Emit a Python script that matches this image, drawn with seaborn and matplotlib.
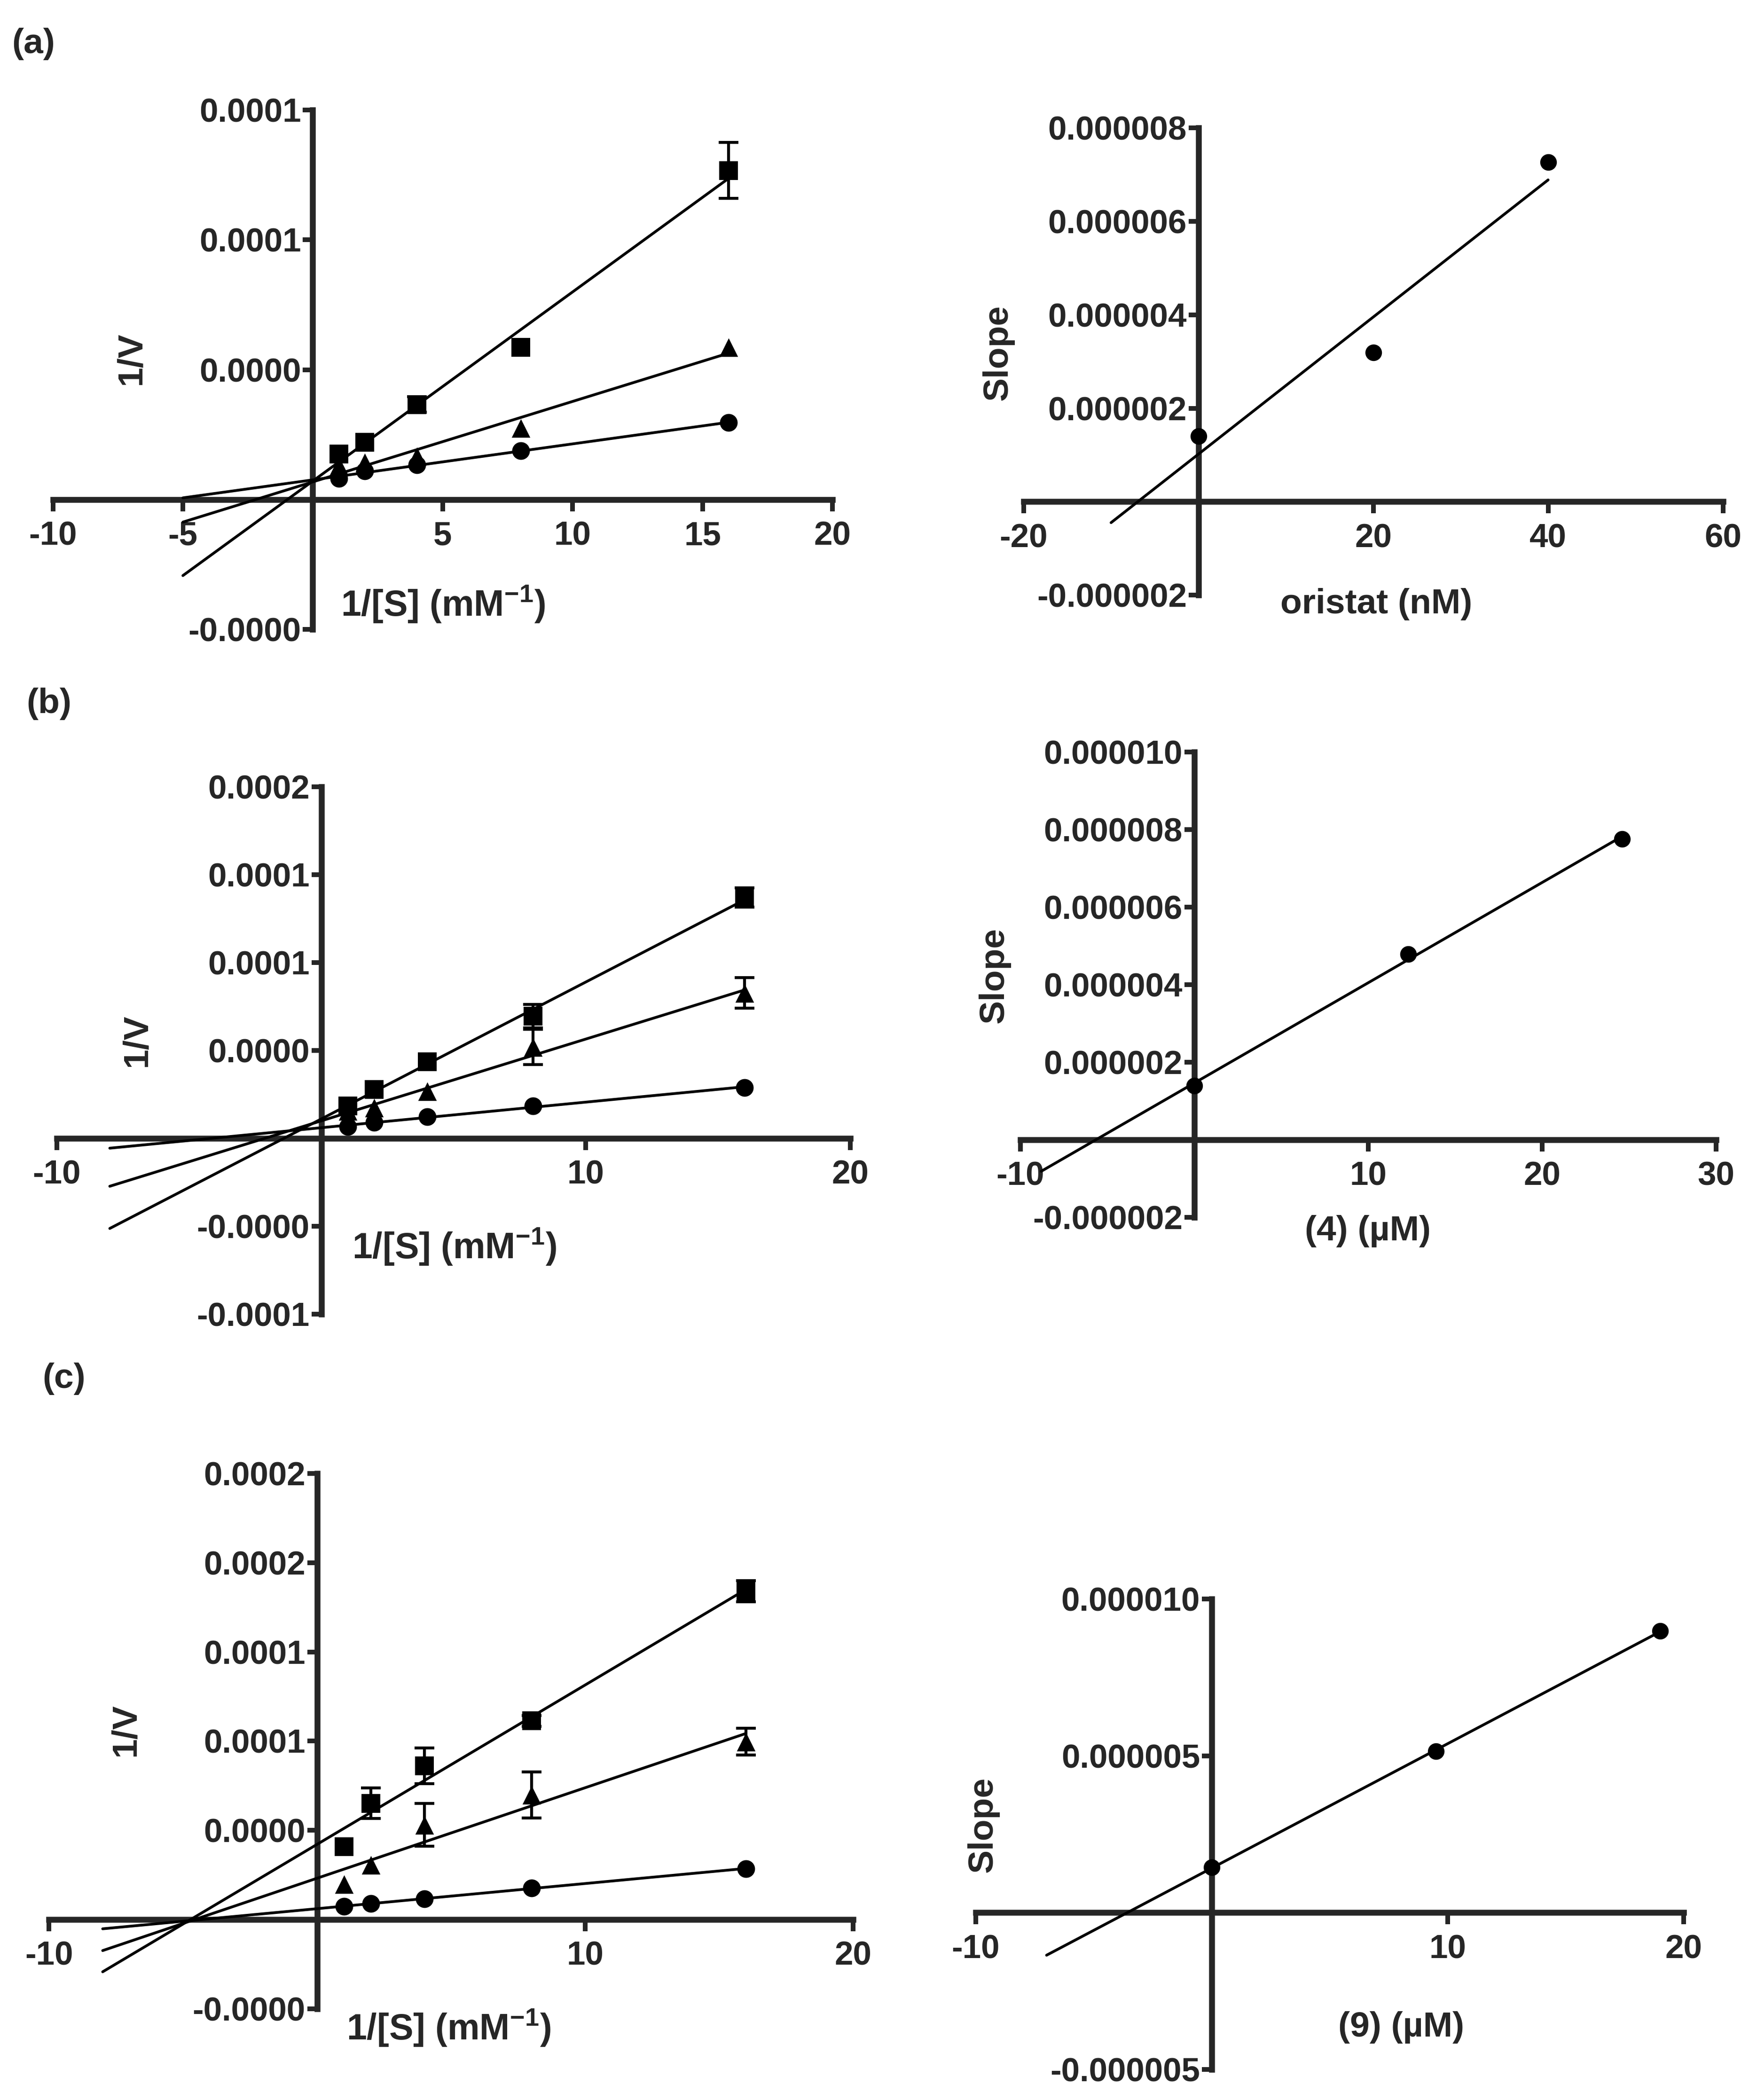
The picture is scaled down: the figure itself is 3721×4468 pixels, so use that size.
import numpy as np
import pandas as pd
import seaborn as sns
import matplotlib.pyplot as plt

# ---- data ----
s_inv = [1, 2, 4, 8, 16]  # 1/[S] (mM^-1)

# (a) oristat
a_square = [1.75e-5, 2.20e-5, 3.66e-5, 5.86e-5, 12.67e-5]
a_square_err = [0, 0, 0.3e-5, 0, 1.08e-5]
a_triangle = [1.30e-5, 1.42e-5, 1.67e-5, 2.75e-5, 5.87e-5]
a_triangle_err = [0, 0, 0, 0, 0]
a_circle = [0.81e-5, 1.10e-5, 1.34e-5, 1.88e-5, 2.96e-5]
a_conc = [0, 20, 40]
a_slope = [1.40e-6, 3.19e-6, 7.27e-6]

# (b) compound 4
b_square = [1.85e-5, 2.79e-5, 4.37e-5, 6.96e-5, 13.7e-5]
b_square_err = [0, 0, 0, 0.67e-5, 0.55e-5]
b_triangle = [1.55e-5, 1.73e-5, 2.67e-5, 5.19e-5, 8.27e-5]
b_triangle_err = [0, 0, 0, 1.0e-5, 0.86e-5]
b_circle = [0.67e-5, 0.91e-5, 1.23e-5, 1.85e-5, 2.89e-5]
b_conc = [0, 12.3, 24.6]
b_slope = [1.39e-6, 4.79e-6, 7.75e-6]

# (c) compound 9
c_square = [4.08e-5, 6.52e-5, 8.61e-5, 11.14e-5, 18.4e-5]
c_square_err = [0, 0.85e-5, 1.0e-5, 0.3e-5, 0.6e-5]
c_triangle = [1.98e-5, 3.07e-5, 5.30e-5, 6.98e-5, 9.97e-5]
c_triangle_err = [0, 0, 1.2e-5, 1.3e-5, 0.75e-5]
c_circle = [0.73e-5, 0.90e-5, 1.17e-5, 1.77e-5, 2.85e-5]
c_conc = [0, 9.5, 19]
c_slope = [1.44e-6, 5.15e-6, 8.98e-6]

# tick labels as printed (truncated) in the original
lb_ticks_a = [-5e-5, 0, 5e-5, 1e-4, 1.5e-4]
lb_labels_a = ['-0.0000', '', '0.0000', '0.0001', '0.0001']
lb_ticks_b = [-1e-4, -5e-5, 0, 5e-5, 1e-4, 1.5e-4, 2e-4]
lb_labels_b = ['-0.0001', '-0.0000', '', '0.0000', '0.0001', '0.0001', '0.0002']
lb_ticks_c = [-5e-5, 0, 5e-5, 1e-4, 1.5e-4, 2e-4, 2.5e-4]
lb_labels_c = ['-0.0000', '', '0.0000', '0.0001', '0.0001', '0.0002', '0.0002']
sl_ticks_a = [-2e-6, 0, 2e-6, 4e-6, 6e-6, 8e-6]
sl_labels_a = ['-0.000002', '', '0.000002', '0.000004', '0.000006', '0.000008']
sl_ticks_b = [-2e-6, 0, 2e-6, 4e-6, 6e-6, 8e-6, 1e-5]
sl_labels_b = ['-0.000002', '', '0.000002', '0.000004', '0.000006', '0.000008', '0.000010']
sl_ticks_c = [-5e-6, 0, 5e-6, 1e-5]
sl_labels_c = ['-0.000005', '', '0.000005', '0.000010']

# ---- style ----
sns.set_style('ticks')
plt.rcParams['font.family'] = ['Liberation Sans', 'DejaVu Sans']
plt.rcParams['font.weight'] = 'bold'
plt.rcParams['mathtext.fontset'] = 'custom'
plt.rcParams['mathtext.rm'] = 'Liberation Sans:bold'
plt.rcParams['mathtext.bf'] = 'Liberation Sans:bold'
plt.rcParams['mathtext.default'] = 'bf'

W, H = 3721, 4468
fig = plt.figure(figsize=(W / 300, H / 300), dpi=300)


def place(x0, x1, ytop, ybot):
    return [x0 / W, 1 - ybot / H, (x1 - x0) / W, (ybot - ytop) / H]


def prism_axes(ax, xlim, ylim, xticks, yticks, ylabels):
    ax.set_xlim(*xlim)
    ax.set_ylim(*ylim)
    for side in ['top', 'right']:
        ax.spines[side].set_visible(False)
    ax.spines['left'].set_position(('data', 0))
    ax.spines['bottom'].set_position(('data', 0))
    for side in ['left', 'bottom']:
        ax.spines[side].set_linewidth(3.0)
        ax.spines[side].set_zorder(1)
    ax.set_xticks(xticks)
    ax.set_xticklabels(['' if t == 0 else str(t) for t in xticks])
    ax.set_yticks(yticks)
    ax.set_yticklabels(ylabels)
    ax.tick_params(axis='both', direction='out', width=2.4, labelsize=17)
    ax.tick_params(axis='y', length=5, pad=1)
    ax.tick_params(axis='x', length=6, pad=5)
    ax.patch.set_alpha(0)
    ax.set_xlabel('')
    ax.set_ylabel('')


def fit_line(ax, x, y, x0, x1):
    k, b = np.polyfit(x, y, 1)
    xs = np.array([x0, x1])
    sns.lineplot(x=xs, y=k * xs + b, ax=ax, color='black', linewidth=1.4,
                 zorder=2, legend=False)


def lb_panel(rect, sets, x_start, yticks, ylabels, ylim):
    ax = fig.add_axes(rect)
    for y, err, marker, size in sets:
        fit_line(ax, s_inv, y, x_start, 16)
        e = np.array(err)
        m = e > 0
        if m.any():
            ax.errorbar(np.array(s_inv)[m], np.array(y)[m], yerr=e[m], fmt='none',
                        ecolor='black', elinewidth=1.5, capsize=5, capthick=1.5,
                        zorder=2.5)
        sns.scatterplot(x=s_inv, y=y, ax=ax, marker=marker, s=size, color='black',
                        edgecolor='black', linewidth=0, zorder=3, clip_on=False)
    prism_axes(ax, (-10, 20), ylim,
               [-10, -5, 0, 5, 10, 15, 20] if x_start == -5 else [-10, 0, 10, 20],
               yticks, ylabels)
    return ax


def slope_panel(rect, conc, slope, x0, xlim, xticks, yticks, ylabels, ylim):
    ax = fig.add_axes(rect)
    fit_line(ax, conc, slope, x0, conc[-1])
    sns.scatterplot(x=conc, y=slope, ax=ax, marker='o', s=72, color='black',
                    edgecolor='black', linewidth=0, zorder=3, clip_on=False)
    prism_axes(ax, xlim, ylim, xticks, yticks, ylabels)
    return ax


sq, tri, cir = 88, 90, 82

# (a)
lb_panel(place(112.7, 1771, 233.9, 1339.3),
         [(a_triangle, a_triangle_err, '^', tri), (a_square, a_square_err, 's', sq),
          (a_circle, [0] * 5, 'o', cir)],
         -5, lb_ticks_a, lb_labels_a, (-5e-5, 1.5e-4))
slope_panel(place(2177.9, 3665.5, 272.3, 1266.1), a_conc, a_slope, -10,
            (-20, 60), [-20, 0, 20, 40, 60], sl_ticks_a, sl_labels_a, (-2e-6, 8e-6))

# (b)
lb_panel(place(121, 1809, 1673.7, 2796.3),
         [(b_triangle, b_triangle_err, '^', tri), (b_square, b_square_err, 's', sq),
          (b_circle, [0] * 5, 'o', cir)],
         -8, lb_ticks_b, lb_labels_b, (-1e-4, 2e-4))
slope_panel(place(2170.8, 3651.2, 1599.7, 2590.1), b_conc, b_slope, -8.8,
            (-10, 30), [-10, 0, 10, 20, 30], sl_ticks_b, sl_labels_b, (-2e-6, 1e-5))

# (c)
lb_panel(place(104.4, 1815, 3134.8, 4274),
         [(c_triangle, c_triangle_err, '^', tri), (c_square, c_square_err, 's', sq),
          (c_circle, [0] * 5, 'o', cir)],
         -8, lb_ticks_c, lb_labels_c, (-5e-5, 2.5e-4))
slope_panel(place(2075.9, 3582.4, 3402, 4403), c_conc, c_slope, -7,
            (-10, 20), [-10, 0, 10, 20], sl_ticks_c, sl_labels_c, (-5e-6, 1e-5))


def ftext(x, y, s, rot=0, size=18):
    fig.text(x / W, 1 - y / H, s, ha='center', va='center', rotation=rot,
             fontsize=size, fontweight='bold')


# panel letters
ftext(71, 94, '(a)')
ftext(104, 1497, '(b)')
ftext(136, 2933, '(c)')

xlab = '1/[S] (mM$^{-1}$)'
ftext(279, 763, '1/V', rot=90)
ftext(943, 1286, xlab, size=18.5)
ftext(2123, 750, 'Slope', rot=90)
ftext(2928, 1286, 'oristat (nM)')

ftext(291, 2214, '1/V', rot=90)
ftext(967, 2653, xlab, size=18.5)
ftext(2115, 2075, 'Slope', rot=90)
ftext(2910, 2619, '(4) (\u00b5M)')

ftext(267, 3681, '1/V', rot=90)
ftext(955, 4315, xlab, size=18.5)
ftext(2091, 3882, 'Slope', rot=90)
ftext(2981, 4313, '(9) (\u00b5M)')

fig.savefig('out.png', dpi=300, facecolor='white')
